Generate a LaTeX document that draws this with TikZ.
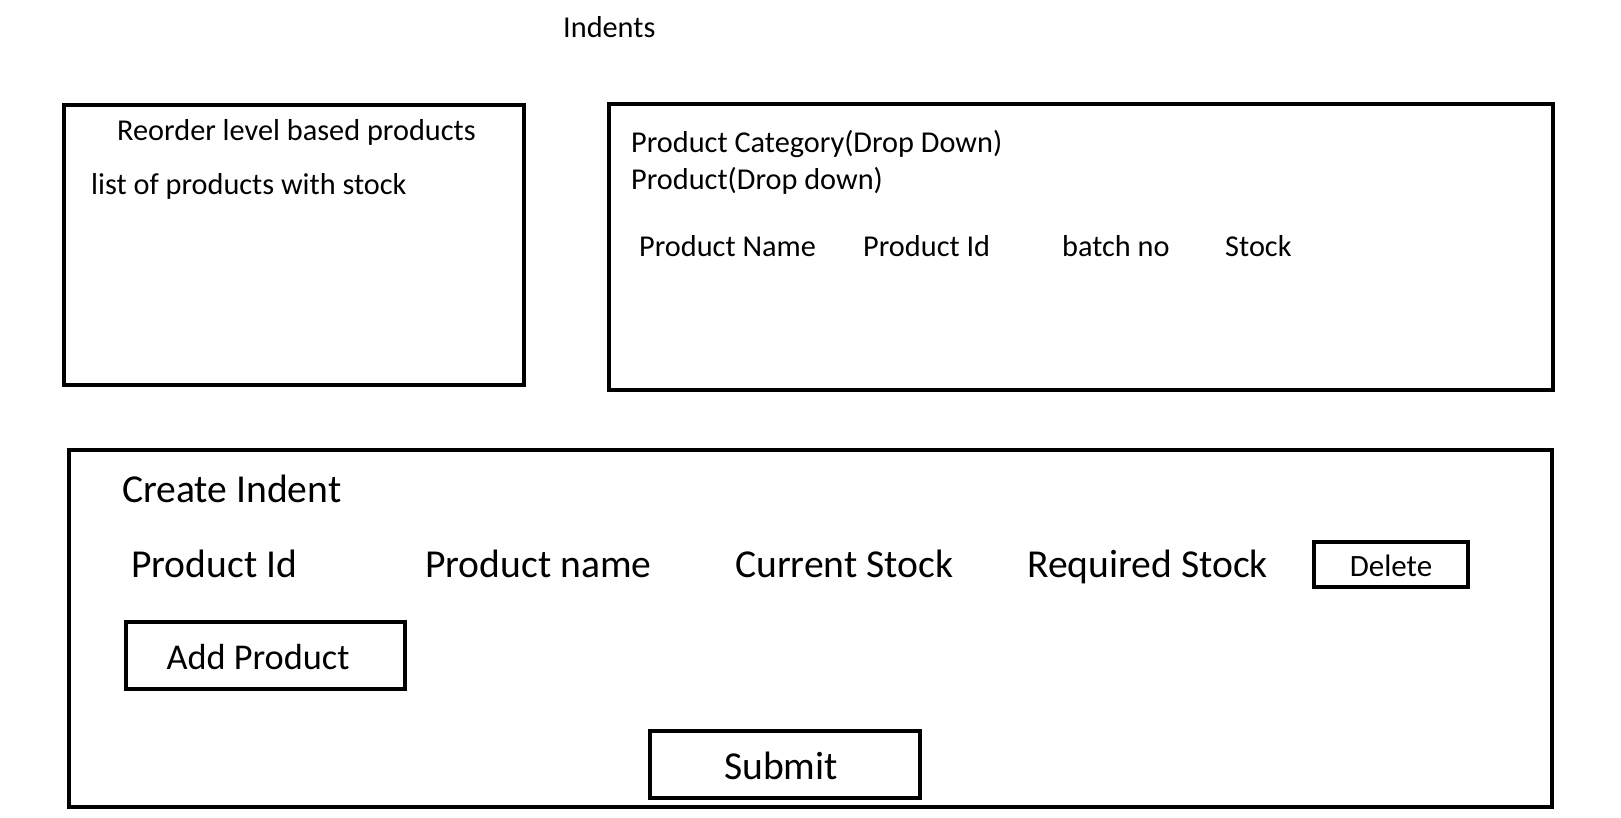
\documentclass[tikz,border=0pt]{standalone}
\usepackage{fontspec}
\setmainfont{Carlito}
\begin{document}
\begin{tikzpicture}[x=1pt,y=-1pt,
  frame/.style={draw=black,line width=4.5pt,inner sep=0pt,outer sep=0pt,anchor=north west},
  btn/.style={draw=black,line width=4pt,inner sep=0pt,outer sep=0pt,anchor=north west},
  sm/.style={inner sep=0pt,anchor=base west,font=\fontsize{30.3}{36}\selectfont},
  lg/.style={inner sep=0pt,anchor=base west,font=\fontsize{39.6}{47}\selectfont}]
\useasboundingbox (0,0) rectangle (1621,818);
% boxes
\node[frame,minimum width=460pt,minimum height=280pt] (left) at (64,105) {};
\node[frame,minimum width=944pt,minimum height=286pt] (right) at (609,104) {};
\node[frame,minimum width=1483pt,minimum height=357pt] (bottom) at (69,450) {};
\node[btn,minimum width=154pt,minimum height=45pt] (delbox) at (1314,542) {};
\node[btn,minimum width=279pt,minimum height=67pt] (addbox) at (126,622) {};
\node[btn,minimum width=270pt,minimum height=67pt] (subbox) at (650,731) {};
% texts
\node[sm] (title) at (563,38) {Indents};
\node[sm] (reorder) at (117,140.5) {Reorder level based products};
\node[sm] (list) at (91,194.5) {list of products with stock};
\node[sm] (cat) at (631,152.5) {Product Category(Drop Down)};
\node[sm] (prod) at (631,189.5) {Product(Drop down)};
\node[sm] (pname) at (639,256) {Product Name};
\node[sm] (pid) at (863,256) {Product Id};
\node[sm] (batch) at (1062,256) {batch no};
\node[sm] (stock) at (1225,256) {Stock};
\node[lg] (create) at (122,502.5) {Create Indent};
\node[lg] (cpid) at (131,577.5) {Product Id};
\node[lg] (cpname) at (425,577.5) {Product name};
\node[lg] (cur) at (735,577.5) {Current Stock};
\node[lg] (req) at (1027,577.5) {Required Stock};
\node[inner sep=0pt,anchor=base,font=\fontsize{31}{37}\selectfont] (del) at (1391,576.5) {Delete};
\node[inner sep=0pt,anchor=base,font=\fontsize{36.3}{43}\selectfont] (add) at (258,669.5) {Add Product};
\node[inner sep=0pt,anchor=base,font=\fontsize{39.6}{47}\selectfont] (sub) at (781,779.5) {Submit};
\end{tikzpicture}
\end{document}
